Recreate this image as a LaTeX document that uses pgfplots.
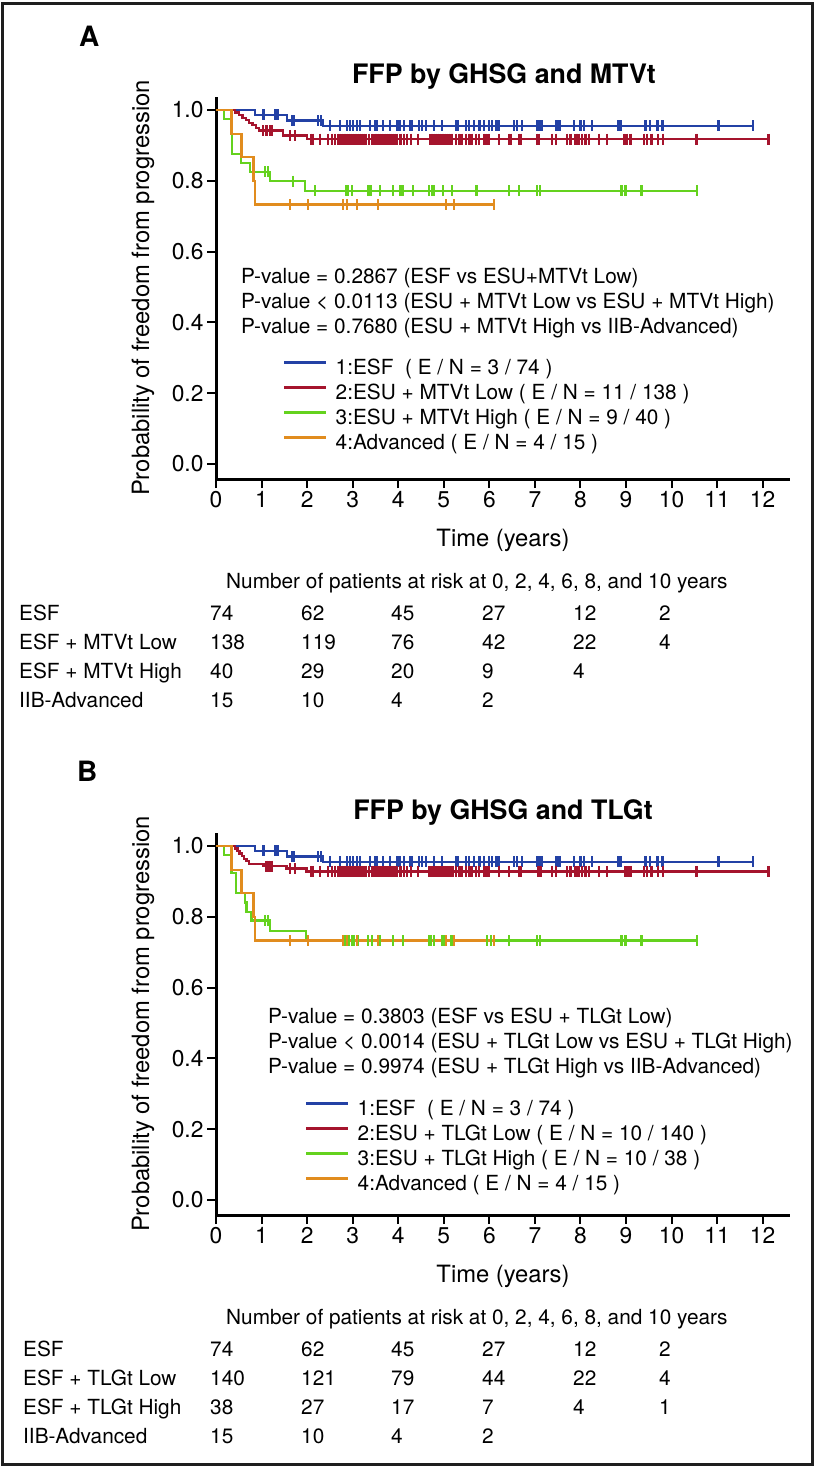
\documentclass[border=0pt]{standalone}
\usepackage{pgfplots}
\pgfplotsset{compat=1.18}
\usepackage{fontspec}
\setmainfont{TeX Gyre Heros}
\definecolor{kmblue}{RGB}{35,65,165}
\definecolor{kmred}{RGB}{165,20,45}
\definecolor{kmgreen}{RGB}{100,210,30}
\definecolor{kmorange}{RGB}{225,140,30}
\definecolor{frame}{RGB}{30,30,30}
\newcommand{\bodyfont}{\fontsize{20.8}{25}\selectfont}
\newcommand{\tickfont}{\fontsize{22.8}{26}\selectfont}
\newcommand{\labfont}{\fontsize{23.8}{28}\selectfont}
\newcommand{\titfont}{\fontsize{26.8}{32}\selectfont\bfseries}
\newcommand{\panfont}{\fontsize{28}{32}\selectfont\bfseries}

\pgfplotsset{
  kmaxis/.style={
    scale only axis, width=574pt, height=382pt,
    anchor=south west,
    xmin=0, xmax=12.6, ymin=-0.04237, ymax=1.03672,
    axis x line=bottom, axis y line=left,
    axis line style={line width=3pt, -},
    xtick={0,1,2,3,4,5,6,7,8,9,10,11,12},
    ytick={0,0.2,0.4,0.6,0.8,1.0},
    tick align=outside, major tick length=9pt,
    tick style={line width=2pt, black},
    tick label style={font=\tickfont},
    /pgf/number format/assume math mode=true,
    yticklabel style={/pgf/number format/fixed, /pgf/number format/fixed zerofill, /pgf/number format/precision=1},
    xlabel={Time (years)},
    xlabel style={font=\labfont, at={(axis description cs:0.5,-0.1767)}, anchor=base},
    ylabel={Probability of freedom from progression},
    ylabel style={font=\labfont, at={(axis description cs:-0.1167,0.5)}, anchor=base},
    clip=false,
    legend cell align=left,
    legend image code/.code={\draw[#1, line width=2.5pt] (0pt,6pt) -- (42pt,6pt);},
    legend style={draw=none, fill=none, anchor=north west, inner sep=0pt, font=\bodyfont,
      row sep=6pt, nodes={inner sep=0pt, text height=15pt, text depth=4pt},
      /tikz/every odd column/.style={column sep=8pt}},
  },
  km/.style={const plot mark left, line width=2.4pt, no markers},
  cens/.style={only marks, mark=|, mark size=5.5pt, mark options={line width=2.2pt}, forget plot},
}

\newcommand{\riskrow}[9]{%
  \node[anchor=base west, inner sep=0pt, font=\bodyfont] at (#2pt,-#1pt) {#3};
  \node[anchor=base west, inner sep=0pt, font=\bodyfont] at (210pt,-#1pt) {#4};
  \node[anchor=base west, inner sep=0pt, font=\bodyfont] at (301pt,-#1pt) {#5};
  \node[anchor=base west, inner sep=0pt, font=\bodyfont] at (391pt,-#1pt) {#6};
  \node[anchor=base west, inner sep=0pt, font=\bodyfont] at (482pt,-#1pt) {#7};
  \node[anchor=base west, inner sep=0pt, font=\bodyfont] at (573pt,-#1pt) {#8};
  \node[anchor=base west, inner sep=0pt, font=\bodyfont] at (659pt,-#1pt) {#9};
}

\begin{document}
\begin{tikzpicture}
\path[use as bounding box] (0pt,0pt) rectangle (819pt,-1467pt);
\draw[line width=3pt, frame] (2.5pt,-3.5pt) rectangle (812pt,-1464pt);

% ================= Panel A =================
\begin{axis}[kmaxis, at={(216pt,-479pt)},
  legend style={at={(axis description cs:0.11672,0.31414)}}]
% ESF
\addplot[km, kmblue] coordinates {(0,1) (0.86,0.986) (1.56,0.970) (2.35,0.955) (11.78,0.955)};
\addlegendentry{1:ESF\ \ ( E / N = 3 / 74 )}
\addplot[cens, kmblue] coordinates {(1.03,0.986)(1.05,0.986)(1.29,0.986)(1.31,0.986)(1.36,0.986)
(1.66,0.970)(1.70,0.970)(2.24,0.970)(2.30,0.970)
(2.50,0.955)(2.72,0.955)(2.87,0.955)(2.94,0.955)(3.00,0.955)(3.09,0.955)(3.16,0.955)(3.38,0.955)(3.49,0.955)(3.53,0.955)(3.66,0.955)(3.82,0.955)(3.97,0.955)(4.03,0.955)(4.13,0.955)(4.25,0.955)(4.30,0.955)(4.45,0.955)(4.52,0.955)(4.61,0.955)(4.78,0.955)(4.96,0.955)(5.26,0.955)(5.30,0.955)(5.48,0.955)(5.55,0.955)(5.66,0.955)(5.77,0.955)(5.80,0.955)(5.88,0.955)(5.99,0.955)(6.05,0.955)(6.14,0.955)(6.16,0.955)(6.20,0.955)(6.54,0.955)(6.60,0.955)(6.71,0.955)(7.04,0.955)(7.10,0.955)(7.13,0.955)(7.15,0.955)(7.46,0.955)(7.52,0.955)(7.55,0.955)(7.85,0.955)(8.00,0.955)(8.07,0.955)(8.25,0.955)(8.82,0.955)(8.88,0.955)(9.43,0.955)(9.52,0.955)(9.69,0.955)(9.80,0.955)(11.03,0.955)(11.78,0.955)};
% ESU + MTVt Low
\addplot[km, kmred] coordinates {(0,1)(0.42,0.993)(0.50,0.986)(0.58,0.978)(0.66,0.971)(0.72,0.964)(0.80,0.957)(0.88,0.949)(0.95,0.942)(1.47,0.928)(2.00,0.918)(12.13,0.918)};
\addlegendentry{2:ESU + MTVt Low ( E / N = 11 / 138 )}
\addplot[cens, kmred] coordinates {(1.04,0.942)(1.11,0.942)(1.18,0.942)(1.22,0.942)(1.62,0.928)(1.73,0.928)
(2.08,0.918)(2.13,0.918)(2.28,0.918)(2.46,0.918)(2.55,0.918)(2.62,0.918)(2.68,0.918)(2.72,0.918)(2.76,0.918)(2.80,0.918)(2.84,0.918)(2.88,0.918)(2.92,0.918)(2.96,0.918)(3.00,0.918)(3.04,0.918)(3.08,0.918)(3.12,0.918)(3.16,0.918)(3.20,0.918)(3.25,0.918)(3.30,0.918)(3.36,0.918)(3.42,0.918)(3.48,0.918)(3.52,0.918)(3.56,0.918)(3.60,0.918)(3.64,0.918)(3.70,0.918)(3.76,0.918)(3.80,0.918)(3.84,0.918)(3.88,0.918)(3.92,0.918)(3.97,0.918)(4.05,0.918)(4.12,0.918)(4.20,0.918)(4.28,0.918)(4.43,0.918)(4.71,0.918)(4.75,0.918)(4.79,0.918)(4.83,0.918)(4.87,0.918)(4.91,0.918)(4.95,0.918)(4.99,0.918)(5.03,0.918)(5.07,0.918)(5.11,0.918)(5.15,0.918)(5.18,0.918)(5.26,0.918)(5.33,0.918)(5.39,0.918)(5.48,0.918)(5.55,0.918)(5.61,0.918)(5.70,0.918)(5.77,0.918)(5.88,0.918)(5.92,0.918)(5.96,0.918)(5.99,0.918)(6.21,0.918)(6.43,0.918)(6.47,0.918)(6.65,0.918)(6.69,0.918)(7.04,0.918)(7.08,0.918)(7.37,0.918)(7.46,0.918)(7.70,0.918)(7.78,0.918)(7.89,0.918)(7.93,0.918)(7.96,0.918)(8.03,0.918)(8.11,0.918)(8.18,0.918)(8.40,0.918)(8.58,0.918)(8.95,0.918)(9.01,0.918)(9.10,0.918)(9.39,0.918)(9.46,0.918)(9.56,0.918)(9.71,0.918)(9.82,0.918)(10.53,0.918)(10.55,0.918)(12.13,0.918)};
% ESU + MTVt High
\addplot[km, kmgreen] coordinates {(0,1)(0.18,0.975)(0.35,0.875)(0.55,0.850)(0.75,0.825)(1.18,0.799)(1.96,0.772)(10.55,0.772)};
\addlegendentry{3:ESU + MTVt High ( E / N = 9 / 40 )}
\addplot[cens, kmgreen] coordinates {(1.08,0.825)(1.15,0.825)(1.69,0.799)
(2.17,0.772)(2.85,0.772)(2.90,0.772)(2.98,0.772)(3.33,0.772)(3.39,0.772)(3.60,0.772)(3.88,0.772)(4.05,0.772)(4.10,0.772)(4.32,0.772)(4.67,0.772)(4.74,0.772)(4.78,0.772)(4.98,0.772)(5.18,0.772)(5.72,0.772)(6.43,0.772)(6.65,0.772)(7.04,0.772)(7.11,0.772)(8.90,0.772)(8.99,0.772)(9.34,0.772)(10.55,0.772)};
% Advanced
\addplot[km, kmorange] coordinates {(0,1)(0.34,0.933)(0.56,0.867)(0.82,0.800)(0.86,0.733)(6.10,0.733)};
\addlegendentry{4:Advanced ( E / N = 4 / 15 )}
\addplot[cens, kmorange] coordinates {(1.62,0.733)(2.02,0.733)(2.79,0.733)(2.87,0.733)(3.09,0.733)(3.56,0.733)(5.04,0.733)(5.22,0.733)(6.10,0.733)};
\end{axis}

\node[anchor=base west, inner sep=0pt, font=\panfont] at (79pt,-46.7pt) {A};
\node[anchor=base, inner sep=0pt, font=\titfont] at (504pt,-83.3pt) {FFP by GHSG and MTVt};
\node[anchor=base west, inner sep=0pt, font=\bodyfont] at (241pt,-283.5pt) {P-value = 0.2867 (ESF vs ESU+MTVt Low)};
\node[anchor=base west, inner sep=0pt, font=\bodyfont] at (241pt,-308.5pt) {P-value < 0.0113 (ESU + MTVt Low vs ESU + MTVt High)};
\node[anchor=base west, inner sep=0pt, font=\bodyfont] at (241pt,-333.5pt) {P-value = 0.7680 (ESU + MTVt High vs IIB-Advanced)};

\node[anchor=base west, inner sep=0pt, font=\bodyfont] at (226pt,-588.5pt) {Number of patients at risk at 0, 2, 4, 6, 8, and 10 years};
\riskrow{620}{19}{ESF}{74}{62}{45}{27}{12}{2}
\riskrow{649}{19}{ESF + MTVt Low}{138}{119}{76}{42}{22}{4}
\riskrow{678}{19}{ESF + MTVt High}{40}{29}{20}{9}{4}{}
\riskrow{707}{19}{IIB-Advanced}{15}{10}{4}{2}{}{}

% ================= Panel B =================
\begin{axis}[kmaxis, at={(216pt,-1215pt)},
  legend style={at={(axis description cs:0.15505,0.30105)}}]
\addplot[km, kmblue] coordinates {(0,1) (0.86,0.986) (1.56,0.970) (2.35,0.955) (11.78,0.955)};
\addlegendentry{1:ESF\ \ ( E / N = 3 / 74 )}
\addplot[cens, kmblue] coordinates {(1.03,0.986)(1.05,0.986)(1.29,0.986)(1.31,0.986)(1.36,0.986)
(1.66,0.970)(1.70,0.970)(2.24,0.970)(2.30,0.970)
(2.50,0.955)(2.72,0.955)(2.87,0.955)(2.94,0.955)(3.00,0.955)(3.09,0.955)(3.16,0.955)(3.38,0.955)(3.49,0.955)(3.53,0.955)(3.66,0.955)(3.82,0.955)(3.97,0.955)(4.03,0.955)(4.13,0.955)(4.25,0.955)(4.30,0.955)(4.45,0.955)(4.52,0.955)(4.61,0.955)(4.78,0.955)(4.96,0.955)(5.26,0.955)(5.30,0.955)(5.48,0.955)(5.55,0.955)(5.66,0.955)(5.77,0.955)(5.80,0.955)(5.88,0.955)(5.99,0.955)(6.05,0.955)(6.14,0.955)(6.16,0.955)(6.20,0.955)(6.54,0.955)(6.60,0.955)(6.71,0.955)(7.04,0.955)(7.10,0.955)(7.13,0.955)(7.15,0.955)(7.46,0.955)(7.52,0.955)(7.55,0.955)(7.85,0.955)(8.00,0.955)(8.07,0.955)(8.25,0.955)(8.82,0.955)(8.88,0.955)(9.43,0.955)(9.52,0.955)(9.69,0.955)(9.80,0.955)(11.03,0.955)(11.78,0.955)};
\addplot[km, kmred] coordinates {(0,1)(0.42,0.993)(0.47,0.986)(0.52,0.979)(0.57,0.971)(0.62,0.964)(0.67,0.957)(0.72,0.950)(1.04,0.943)(1.55,0.936)(1.99,0.928)(12.13,0.928)};
\addlegendentry{2:ESU + TLGt Low ( E / N = 10 / 140 )}
\addplot[cens, kmred] coordinates {(1.11,0.943)(1.16,0.943)(1.22,0.943)(1.62,0.936)(1.73,0.936)
(2.08,0.928)(2.13,0.928)(2.28,0.928)(2.46,0.928)(2.55,0.928)(2.62,0.928)(2.68,0.928)(2.72,0.928)(2.76,0.928)(2.80,0.928)(2.84,0.928)(2.88,0.928)(2.92,0.928)(2.96,0.928)(3.00,0.928)(3.04,0.928)(3.08,0.928)(3.12,0.928)(3.16,0.928)(3.20,0.928)(3.25,0.928)(3.30,0.928)(3.36,0.928)(3.42,0.928)(3.48,0.928)(3.52,0.928)(3.56,0.928)(3.60,0.928)(3.64,0.928)(3.70,0.928)(3.76,0.928)(3.80,0.928)(3.84,0.928)(3.88,0.928)(3.92,0.928)(3.97,0.928)(4.05,0.928)(4.12,0.928)(4.20,0.928)(4.28,0.928)(4.43,0.928)(4.67,0.928)(4.71,0.928)(4.75,0.928)(4.79,0.928)(4.83,0.928)(4.87,0.928)(4.91,0.928)(4.95,0.928)(4.99,0.928)(5.03,0.928)(5.07,0.928)(5.11,0.928)(5.15,0.928)(5.20,0.928)(5.26,0.928)(5.33,0.928)(5.39,0.928)(5.48,0.928)(5.55,0.928)(5.61,0.928)(5.70,0.928)(5.77,0.928)(5.88,0.928)(5.92,0.928)(5.96,0.928)(5.99,0.928)(6.21,0.928)(6.43,0.928)(6.65,0.928)(6.69,0.928)(7.08,0.928)(7.13,0.928)(7.37,0.928)(7.46,0.928)(7.70,0.928)(7.78,0.928)(7.89,0.928)(7.93,0.928)(7.96,0.928)(8.03,0.928)(8.11,0.928)(8.18,0.928)(8.40,0.928)(8.58,0.928)(8.99,0.928)(9.04,0.928)(9.10,0.928)(9.39,0.928)(9.46,0.928)(9.56,0.928)(9.71,0.928)(9.82,0.928)(10.53,0.928)(10.55,0.928)(12.13,0.928)};
\addplot[km, kmgreen] coordinates {(0,1)(0.18,0.974)(0.34,0.924)(0.44,0.868)(0.64,0.840)(0.67,0.814)(0.78,0.790)(1.18,0.760)(1.97,0.733)(10.55,0.733)};
\addlegendentry{3:ESU + TLGt High ( E / N = 10 / 38 )}
\addplot[cens, kmgreen] coordinates {(1.08,0.790)(1.15,0.790)
(2.84,0.733)(2.92,0.733)(2.98,0.733)(3.03,0.733)(3.12,0.733)(3.34,0.733)(3.42,0.733)(3.60,0.733)(3.89,0.733)(4.11,0.733)(4.67,0.733)(4.72,0.733)(4.78,0.733)(4.96,0.733)(5.00,0.733)(5.16,0.733)(5.20,0.733)(5.95,0.733)(6.03,0.733)(6.43,0.733)(7.04,0.733)(7.12,0.733)(8.90,0.733)(8.99,0.733)(9.34,0.733)(10.55,0.733)};
\addplot[km, kmorange] coordinates {(0,1)(0.34,0.933)(0.56,0.867)(0.82,0.800)(0.86,0.733)(6.10,0.733)};
\addlegendentry{4:Advanced ( E / N = 4 / 15 )}
\addplot[cens, kmorange] coordinates {(1.62,0.733)(2.02,0.733)(2.79,0.733)(2.87,0.733)(3.09,0.733)(3.56,0.733)(5.04,0.733)(5.22,0.733)(6.10,0.733)};
\end{axis}

\node[anchor=base west, inner sep=0pt, font=\panfont] at (77pt,-781.7pt) {B};
\node[anchor=base, inner sep=0pt, font=\titfont] at (503pt,-819.3pt) {FFP by GHSG and TLGt};
\node[anchor=base west, inner sep=0pt, font=\bodyfont] at (268pt,-1023pt) {P-value = 0.3803 (ESF vs ESU + TLGt Low)};
\node[anchor=base west, inner sep=0pt, font=\bodyfont] at (268pt,-1048pt) {P-value < 0.0014 (ESU + TLGt Low vs ESU + TLGt High)};
\node[anchor=base west, inner sep=0pt, font=\bodyfont] at (268pt,-1073pt) {P-value = 0.9974 (ESU + TLGt High vs IIB-Advanced)};

\node[anchor=base west, inner sep=0pt, font=\bodyfont] at (226pt,-1324.5pt) {Number of patients at risk at 0, 2, 4, 6, 8, and 10 years};
\riskrow{1356}{23}{ESF}{74}{62}{45}{27}{12}{2}
\riskrow{1385}{23}{ESF + TLGt Low}{140}{121}{79}{44}{22}{4}
\riskrow{1414}{23}{ESF + TLGt High}{38}{27}{17}{7}{4}{1}
\riskrow{1443}{23}{IIB-Advanced}{15}{10}{4}{2}{}{}
\end{tikzpicture}
\end{document}
